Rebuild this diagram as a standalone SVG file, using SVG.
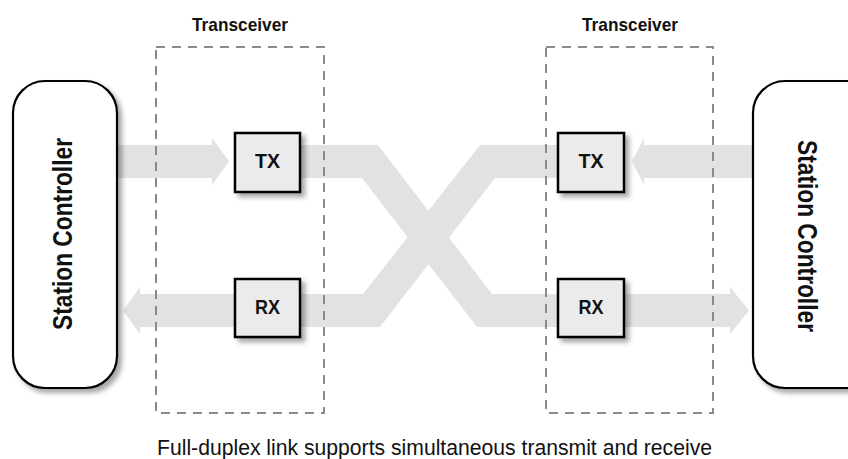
<svg xmlns="http://www.w3.org/2000/svg" width="848" height="459" viewBox="0 0 848 459">
<defs>
<filter id="sh" x="-20%" y="-20%" width="150%" height="150%">
<feDropShadow dx="4" dy="4" stdDeviation="2.5" flood-color="#000" flood-opacity="0.35"/>
</filter>
</defs>
<style>
.band{fill:#e2e2e2;stroke:none}
.ctrl{fill:#fff;stroke:#000;stroke-width:2.2}
.xcvr{fill:none;stroke:#8a8a8a;stroke-width:2;stroke-dasharray:9 7}
.blk{fill:#ebebeb;stroke:#000;stroke-width:2.5}
.lbl{font-family:"Liberation Sans",Arial,sans-serif;font-weight:bold;fill:#111}
.cap{font-family:"Liberation Sans",Arial,sans-serif;fill:#111}
</style>
<rect width="848" height="459" fill="#fff"/>
<g id="connectors">
<polygon class="band" points="117,145 212,145 212,138 229,161.5 212,185 212,178 117,178"/>
<polygon class="band" points="300,145 378,145 492,294 558,294 558,327 477,327 362,178 300,178"/>
<polygon class="band" points="558,145 480,145 363,294 300,294 300,327 380,327 495,178 558,178"/>
<polygon class="band" points="300,294 140,294 140,287 123,310.5 140,334 140,327 300,327"/>
<polygon class="band" points="753,145 644,145 644,138 632,161.5 644,185 644,178 753,178"/>
<polygon class="band" points="624,294 730,294 730,287 749,310.5 730,334 730,327 624,327"/>
</g>
<g id="transceiver-left">
<rect class="xcvr" x="156" y="47" width="168" height="366"/>
<text class="lbl" x="240" y="31" font-size="19" text-anchor="middle" textLength="96" lengthAdjust="spacingAndGlyphs">Transceiver</text>
</g>
<g id="transceiver-right">
<rect class="xcvr" x="546" y="47" width="167" height="366"/>
<text class="lbl" x="630" y="31" font-size="19" text-anchor="middle" textLength="96" lengthAdjust="spacingAndGlyphs">Transceiver</text>
</g>
<g id="controller-left">
<rect class="ctrl" x="13" y="81" width="104" height="307" rx="32" ry="32" filter="url(#sh)"/>
<text class="lbl" transform="translate(72,234) rotate(-90)" font-size="28" text-anchor="middle" textLength="192" lengthAdjust="spacingAndGlyphs">Station Controller</text>
</g>
<g id="controller-right">
<rect class="ctrl" x="753" y="81" width="140" height="307" rx="32" ry="32" filter="url(#sh)"/>
<text class="lbl" transform="translate(798,236) rotate(90)" font-size="28" text-anchor="middle" textLength="192" lengthAdjust="spacingAndGlyphs">Station Controller</text>
</g>
<g id="tx-left">
<rect class="blk" x="235" y="133" width="65" height="59" filter="url(#sh)"/>
<text class="lbl" x="267.5" y="168" font-size="20" text-anchor="middle" textLength="25" lengthAdjust="spacingAndGlyphs">TX</text>
</g>
<g id="rx-left">
<rect class="blk" x="235" y="279" width="65" height="58" filter="url(#sh)"/>
<text class="lbl" x="267.5" y="314" font-size="20" text-anchor="middle" textLength="25" lengthAdjust="spacingAndGlyphs">RX</text>
</g>
<g id="tx-right">
<rect class="blk" x="558" y="133" width="66" height="59" filter="url(#sh)"/>
<text class="lbl" x="591" y="168" font-size="20" text-anchor="middle" textLength="25" lengthAdjust="spacingAndGlyphs">TX</text>
</g>
<g id="rx-right">
<rect class="blk" x="558" y="279" width="66" height="58" filter="url(#sh)"/>
<text class="lbl" x="591" y="314" font-size="20" text-anchor="middle" textLength="25" lengthAdjust="spacingAndGlyphs">RX</text>
</g>
<text class="cap" x="157" y="455" font-size="22" textLength="555" lengthAdjust="spacingAndGlyphs">Full-duplex link supports simultaneous transmit and receive</text>
</svg>
